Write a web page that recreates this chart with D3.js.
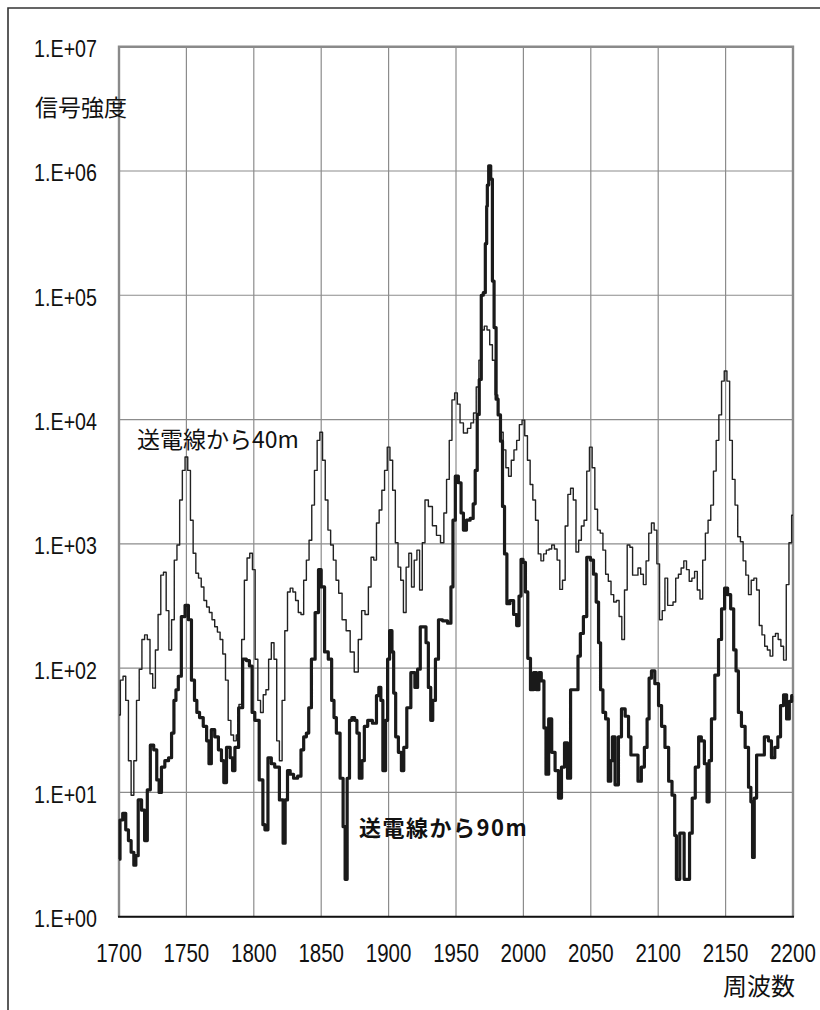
<!DOCTYPE html>
<html><head><meta charset="utf-8">
<script src="https://cdn.jsdelivr.net/npm/d3@7"></script>
<style>
body{margin:0;background:#fff;}
svg{display:block;}
</style></head><body>
<svg id="c" width="820" height="1010"></svg>
<script>
// ---- data ----
const freq40 = [1700,1702,1704,1706,1708,1710,1712,1714,1716,1718,1720,1722,1724,1726,1728,1730,1732,1734,1736,1738,1740,1742,1744,1746,1748,1750,1752,1754,1756,1758,1760,1762,1764,1766,1768,1770,1772,1774,1776,1778,1780,1782,1784,1786,1788,1790,1792,1794,1796,1798,1800,1802,1804,1806,1808,1810,1812,1814,1816,1818,1820,1822,1824,1826,1828,1830,1832,1834,1836,1838,1840,1842,1844,1846,1848,1850,1852,1854,1856,1858,1860,1862,1864,1867,1870,1873,1876,1879,1881,1884,1886,1888,1890,1892,1894,1896,1898,1900,1902,1904,1906,1908,1910,1912,1914,1916,1918,1920,1922,1924,1926,1928,1931,1934,1937,1940,1942,1944,1946,1948,1950,1952,1954,1957,1960,1962,1964,1966,1968,1970,1972,1974,1976,1978,1980,1982,1984,1986,1988,1990,1992,1994,1996,1998,2000,2002,2004,2006,2008,2010,2012,2014,2016,2018,2020,2022,2024,2026,2028,2030,2032,2034,2036,2038,2040,2042,2044,2046,2048,2050,2052,2054,2056,2058,2060,2062,2064,2066,2068,2070,2072,2074,2076,2078,2080,2082,2084,2086,2088,2090,2092,2094,2096,2098,2100,2102,2104,2106,2108,2110,2112,2114,2116,2118,2120,2122,2124,2126,2128,2130,2132,2134,2136,2138,2140,2142,2144,2146,2148,2150,2152,2154,2156,2158,2160,2162,2164,2166,2168,2170,2172,2174,2176,2178,2180,2182,2184,2186,2188,2190,2192,2194,2196,2198,2200];
const sig40 = [42,80,86,55,18,9.5,18,55,98,170,185,170,90,69,140,270,560,590,290,140,245,740,980,2250,3900,5000,3900,1550,840,580,530,450,350,310,280,245,215,195,170,130,80,38,29,26,29,51,170,510,770,840,620,118,55,44,61,67,118,160,118,26,18,55,200,410,440,410,350,280,270,510,740,1070,2050,3900,6800,7900,4700,2250,1290,980,740,510,400,245,200,135,93,170,290,270,450,780,740,1470,1870,2700,3900,6000,4700,2700,1020,650,510,280,650,840,450,740,890,425,1020,2250,2000,1400,1170,1020,1770,3300,6800,14400,16400,13300,9400,7800,8500,9400,11300,18300,30100,52500,56500,52500,40000,30000,15800,10900,7900,5700,4100,3500,4700,5700,6800,9100,9900,7400,4700,3000,2250,1550,830,730,830,890,910,980,910,740,430,510,1390,2500,2800,2250,860,1070,1390,1550,3850,6000,4100,1900,1290,1220,890,570,500,390,340,350,260,170,425,980,940,560,560,640,570,470,730,1220,1470,1290,690,245,290,530,320,320,340,530,570,640,730,620,500,530,600,425,360,740,1220,1550,2050,3850,6800,10900,20400,24600,20400,6800,3300,2050,1140,1040,730,560,390,510,530,425,220,185,150,140,125,180,190,170,150,116,470,1020,1700];

const freq90 = [1700,1701.5,1704,1706,1708,1710,1712,1713,1715.5,1718,1720,1722,1724.5,1727,1729,1730.5,1732.5,1735.5,1738,1740,1741.5,1743,1745,1747.5,1750.5,1752.5,1755,1757,1758.5,1761,1764,1766,1767.5,1769.5,1772.5,1775,1777,1778.5,1781,1784,1784.5,1787.5,1790,1793.5,1795.5,1798,1799.5,1802,1806,1807.5,1809,1812,1814,1817,1821,1822.5,1824,1826,1828,1831,1834,1836,1838,1840,1841.5,1844,1847,1849,1851,1854,1856.5,1859,1860,1862.5,1865.5,1867,1868.5,1870,1872,1873.5,1876,1877,1879.5,1881,1883,1886,1890,1892,1893.5,1895,1896.5,1899,1899.5,1902,1903,1904.5,1906,1908.5,1910.5,1912,1915,1918,1921,1922,1925,1927,1928.5,1930.5,1932,1933.5,1936,1938,1942,1945.5,1947,1948.5,1950.5,1953,1954.5,1956.5,1959,1962,1963.5,1965,1966.5,1968,1969.5,1971,1972.5,1973,1973.5,1975,1976.5,1977.5,1979,1980.5,1982,1984,1985,1987,1988.5,1991.5,1994,1996,1997.5,1999,2000.5,2002.5,2004,2006.5,2008.5,2011,2012,2014.5,2016,2017.5,2020,2022,2025,2027,2029.5,2031.5,2034,2036,2040,2041,2043.5,2045.5,2048.5,2051,2053,2055,2056.5,2058,2060,2062,2064,2065.5,2066.5,2069.5,2071.5,2074,2077,2079,2080.5,2083.5,2086.5,2088.5,2091,2092.5,2094,2096,2099,2101.5,2103.5,2106.5,2109,2111.5,2113,2114,2115,2117,2118.5,2120,2122,2124.5,2126,2129,2131,2133,2135.5,2137,2138.5,2140.5,2143.5,2146,2148,2150.5,2152.5,2155,2157,2158.5,2160.5,2163,2166,2168,2169.5,2170.5,2172,2174,2177,2180.5,2183,2185,2188,2189.5,2192,2194,2196.5,2198,2200];
const sig90 = [2.9,6.0,6.8,5.0,4.1,3.3,2.6,3.1,8.7,7.2,4.1,10.5,24,22,12.6,10,16,18,19,30,55,67,86,260,320,245,80,55,44,40,34,26,17,32,28,22,18,12,23,19,15,23,48,118,115,104,44,38,12.6,5.5,5.0,19,17,16,8.7,3.9,8.7,15,14,13,13.5,22,28,30,48,118,280,620,450,135,118,55,40,30,13,5.3,2.0,13,38,40,38,30,13,18,34,38,36,60,70,55,15,38,118,200,135,63,28,21,15,23,48,92,70,98,215,215,160,70,38,55,118,245,240,230,450,1550,3500,3100,1770,1290,1550,1600,2100,3900,11000,21000,100000,105000,260000,520000,770000,1100000,860000,130000,55000,14600,10900,6700,2000,830,330,350,270,220,380,750,710,410,120,67,92,67,92,79,33,14,39,21,15,9,16,25,13,67,67,125,190,260,780,740,570,340,160,67,44,39,12.3,18,28,11.5,28,47,41,28,20,20,12.3,16,23,39,83,95,75,50,34,23,12.3,9.5,4.5,2.0,2.0,4.7,4.7,2.0,2.0,4.7,9,16,28,26,17,8.4,18,39,88,170,300,440,390,300,140,95,44,34,23,11,8.4,3.0,9,20,20,28,26,19,23,28,50,61,39,54,60];

const xTicks = [1700,1750,1800,1850,1900,1950,2000,2050,2100,2150,2200];
const yTicks = [1,10,100,1000,10000,100000,1000000,10000000];
const yTickLabels = ["1.E+00","1.E+01","1.E+02","1.E+03","1.E+04","1.E+05","1.E+06","1.E+07"];
const yTitle = "信号強度";
const xTitle = "周波数";
const label40 = "送電線から40m";
const label90 = "送電線から90m";

// ---- drawing ----
const svg = d3.select("#c");
const L = 119, R = 793, T = 46.7, B = 916.7;
const x = d3.scaleLinear().domain([1700, 2200]).range([L, R]);
const y = d3.scaleLog().domain([1, 1e7]).range([B, T]);
const sans = "'Liberation Sans','Arial',sans-serif";
const jp = "'Noto Sans CJK JP','Noto Sans CJK SC',sans-serif";
const SQ = 0.82; // condensed look

svg.append("rect").attr("width", 820).attr("height", 1010).attr("fill", "#fff");
// outer frame (left/top)
svg.append("path").attr("d", "M8,1010V8H820").attr("fill", "none")
  .attr("stroke", "#333").attr("stroke-width", 1.6);

// grid
const grid = svg.append("g").attr("stroke", "#8c8c8c").attr("stroke-width", 1.2);
grid.selectAll("line.v").data(xTicks).join("line")
  .attr("x1", d => x(d)).attr("x2", d => x(d)).attr("y1", T).attr("y2", B);
grid.selectAll("line.h").data(yTicks).join("line")
  .attr("x1", L).attr("x2", R).attr("y1", d => y(d)).attr("y2", d => y(d));

// plot frame
svg.append("path").attr("d", `M${L},${B}V${T}H${R}V${B}`).attr("fill", "none")
  .attr("stroke", "#8a8a8a").attr("stroke-width", 2.4);

// series
const line = d3.line().curve(d3.curveStep);
const pts40 = freq40.map((f, i) => [x(f), y(sig40[i])]);
const pts90 = freq90.map((f, i) => [x(f), y(sig90[i])]);
svg.append("path").attr("d", line(pts40)).attr("fill", "none")
  .attr("stroke", "#222").attr("stroke-width", 1.4).attr("stroke-linejoin", "round");
svg.append("path").attr("d", line(pts90)).attr("fill", "none")
  .attr("stroke", "#1a1a1a").attr("stroke-width", 3.2).attr("stroke-linejoin", "round");

// bottom axis line
svg.append("line").attr("x1", L - 1).attr("x2", R + 1).attr("y1", B).attr("y2", B)
  .attr("stroke", "#111").attr("stroke-width", 2);

// y tick labels (condensed)
svg.append("g").selectAll("text").data(yTicks).join("text")
  .attr("transform", d => `translate(97,${y(d) + 10.5}) scale(${SQ},1)`)
  .attr("text-anchor", "end").attr("font-family", sans).attr("font-size", 24)
  .attr("fill", "#111").text((d, i) => yTickLabels[i]);

// x tick labels (condensed)
svg.append("g").selectAll("text").data(xTicks).join("text")
  .attr("transform", d => `translate(${x(d)},962) scale(${SQ},1)`)
  .attr("text-anchor", "middle").attr("font-family", sans).attr("font-size", 25)
  .attr("fill", "#111").text(d => d);

// titles
svg.append("text").attr("x", 35).attr("y", 116).attr("font-family", jp)
  .attr("font-size", 23).attr("fill", "#111").text(yTitle);
svg.append("text").attr("x", 795).attr("y", 995).attr("text-anchor", "end")
  .attr("font-family", jp).attr("font-size", 24).attr("fill", "#111").text(xTitle);

// series labels
svg.append("text").attr("x", 137).attr("y", 448).attr("font-family", jp)
  .attr("font-size", 23).attr("fill", "#111").text(label40);
svg.append("text").attr("x", 359).attr("y", 836).attr("font-family", jp)
  .attr("font-size", 22).attr("font-weight", "bold").attr("letter-spacing", 1.5)
  .attr("fill", "#111").text(label90);
</script>
</body></html>
